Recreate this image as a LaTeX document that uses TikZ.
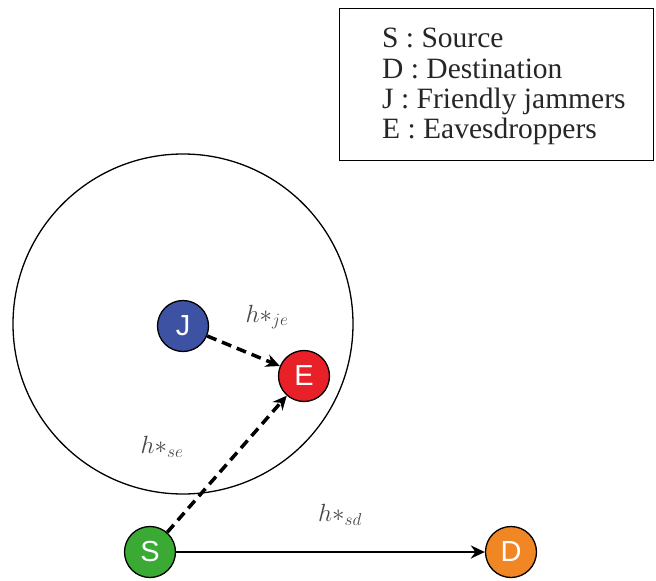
\documentclass[tikz,border=0pt]{standalone}
\usepackage{fontspec}
\setmainfont{Liberation Serif}
\newfontfamily\stationfont{Liberation Sans}
\usetikzlibrary{arrows.meta}

\definecolor{jamblue}{RGB}{62,82,163}
\definecolor{evered}{RGB}{232,32,40}
\definecolor{srcgreen}{RGB}{58,170,53}
\definecolor{dstorange}{RGB}{240,134,36}
\definecolor{gaingray}{RGB}{70,70,70}

\begin{document}
\begin{tikzpicture}[x=1pt, y=-1pt,
    station/.style={circle, draw=black, line width=1.3pt, minimum size=51pt,
        inner sep=0pt, text=white, font=\stationfont\fontsize{29}{29}\selectfont},
    jam link/.style={dash pattern=on 10pt off 6pt, line width=3.5pt,
        -{Stealth[length=14pt, width=13pt]}},
    data link/.style={line width=2.8pt, -{Stealth[length=14pt, width=13pt]}},
    gain/.style={text=gaingray, font=\fontsize{26}{30}\selectfont}]

    \useasboundingbox (0,0) rectangle (656,581);

    % legend
    \draw[line width=1pt] (339,8) rectangle (653,160);
    \node[anchor=north west, align=left, inner sep=0pt, text=black!85,
        font=\fontsize{29.5}{30.4}\selectfont] (legend) at (382,28)
        {S : Source\\ D : Destination\\ J : Friendly jammers\\ E : Eavesdroppers};

    % jamming range
    \draw[line width=1.3pt] (183,324) circle (170pt);

    \node[station, fill=jamblue]   (J) at (183,326) {J};
    \node[station, fill=evered]    (E) at (304,376) {E};
    \node[station, fill=srcgreen]  (S) at (150,552) {S};
    \node[station, fill=dstorange] (D) at (511,552) {D};

    \draw[jam link]  (J) -- (E);
    \draw[jam link]  (S) -- (E);
    \draw[data link] (S) -- (D);

    \node[gain] (hje) at (267,317) {$h{*}_{je}$};
    \node[gain] (hse) at (162,447) {$h{*}_{se}$};
    \node[gain] (hsd) at (340,515) {$h{*}_{sd}$};

\end{tikzpicture}
\end{document}
